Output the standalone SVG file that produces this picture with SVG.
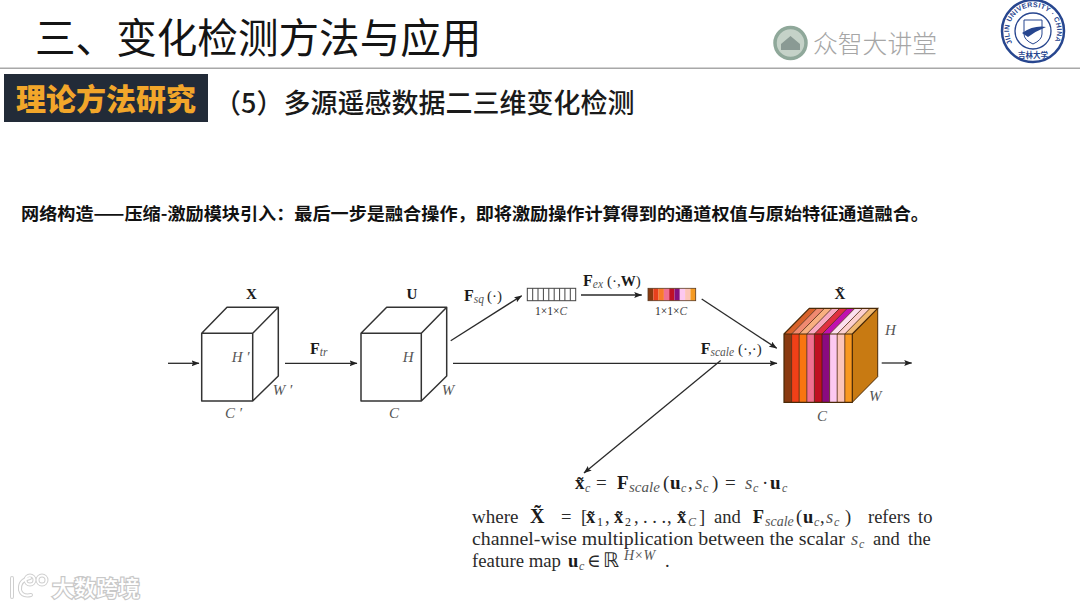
<svg xmlns="http://www.w3.org/2000/svg" width="1080" height="608" viewBox="0 0 1080 608">
<defs>
<marker id="ah" markerUnits="userSpaceOnUse" markerWidth="8" markerHeight="6" refX="7.500" refY="3" orient="auto"><path d="M0 0L8 3L0 6L1.500 3Z" fill="#222"/></marker>
<path id="sealArc" d="M1012.200 43A24 24 0 1 1 1053.800 43"/>
</defs>
<style>
.cjk{font-family:"Noto Sans CJK SC","Noto Sans",sans-serif}
.m{font-family:"Liberation Serif","DejaVu Serif",serif;fill:#2a2a2a}
.i{font-style:italic;fill:#555}
.b{font-weight:bold;fill:#1a1a1a}
.l{font-size:15px}
.t{font-size:18.5px}
.s{font-size:11.5px}
.box{fill:none;stroke:#333;stroke-width:1.5;stroke-linejoin:round}
.con{fill:none;stroke:#2a2a2a;stroke-width:1.3;marker-end:url(#ah)}
.div{fill:none;stroke:#4a2008;stroke-width:.8}
</style>
<rect width="1080" height="608" fill="#fff"/>

<g id="header">
<text class="cjk" x="35" y="53" font-size="40.600" fill="#141414">三、变化检测方法与应用</text>
<rect x="0" y="67.500" width="1080" height="1.500" fill="#a8a8a8"/>
<rect x="4" y="74" width="204" height="48" fill="#222b38"/>
<text class="cjk" x="16" y="110" font-size="30" font-weight="900" fill="#f2a62a">理论方法研究</text>
<text class="cjk" x="214" y="113" font-size="27" font-weight="500" fill="#1a1a1a">（5）多源遥感数据二三维变化检测</text>
</g>

<g id="logo-zhongzhi">
<circle cx="790.500" cy="43" r="15.500" fill="#c5d2c8" stroke="#8fa89a" stroke-width="3.500"/>
<path d="M781 50V44L790.500 36L800 44V50Z" fill="#8a9a94"/>
<text class="cjk" x="813" y="53" font-size="24.800" font-weight="300" fill="#a6a6a6">众智大讲堂</text>
</g>
<g id="logo-university">
<circle cx="1033" cy="31" r="31" fill="#fff" stroke="#27468f" stroke-width="2.500"/>
<circle cx="1033" cy="31" r="18" fill="none" stroke="#27468f" stroke-width="1.300"/>
<path d="M1024 20H1042V34Q1042 40 1033 44Q1024 40 1024 34Z" fill="none" stroke="#27468f"/>
<path d="M1022 33Q1034 25 1046 27Q1036 31 1028 37Z" fill="#27468f"/>
<text font-family="Liberation Sans,sans-serif" font-size="7" font-weight="bold" fill="#27468f"><textPath href="#sealArc" textLength="98" lengthAdjust="spacing">JILIN UNIVERSITY · CHINA</textPath></text>
<text class="cjk" x="1033" y="58" font-size="7.500" font-weight="700" text-anchor="middle" fill="#27468f">吉林大学</text>
</g>

<text id="intro" class="cjk" x="21" y="220" font-size="17.600" font-weight="700" fill="#111" textLength="908" lengthAdjust="spacingAndGlyphs">网络构造——压缩-激励模块引入：最后一步是融合操作，即将激励操作计算得到的通道权值与原始特征通道融合。</text>

<g id="connectors">
<path class="con" d="M168 363.300H199"/>
<path class="con" d="M285 363.300H357"/>
<path class="con" d="M453 363.300H777"/>
<path class="con" d="M450.700 340.700L521.700 295.700"/>
<path class="con" d="M581 295H641.700"/>
<path class="con" d="M701.700 299L776.700 348.300"/>
<path class="con" d="M881.700 363H911.700"/>
<path class="con" d="M720.700 360.500L584 473"/>
</g>

<g id="node-x">
<path class="box" d="M201.700 333.300H252.700V401H201.700ZM201.700 333.300L227 307.300H278.300L252.700 333.300M278.300 307.300V376L252.700 401"/>
<text class="m b l" x="251.500" y="299" text-anchor="middle">X</text>
<text class="m i l" x="231.700" y="362">H ′</text>
<text class="m i l" x="272.700" y="395">W ′</text>
<text class="m i l" x="225" y="418">C ′</text>
</g>
<g id="label-ftr"><text class="m" x="310" y="354"><tspan class="b" font-size="16">F</tspan><tspan class="i" font-size="11.500" dy="2">tr</tspan></text></g>

<g id="node-u">
<path class="box" d="M361 333.300H421.300V401H361ZM361 333.300L386.700 307.300H446.700L421.300 333.300M446.700 307.300V376L421.300 401"/>
<text class="m b l" x="412" y="299" text-anchor="middle">U</text>
<text class="m i l" x="402.700" y="362">H</text>
<text class="m i l" x="441.700" y="395">W</text>
<text class="m i l" x="389" y="418">C</text>
</g>
<g id="label-fsq"><text class="m" x="464" y="301"><tspan class="b" font-size="16">F</tspan><tspan class="i" font-size="11.500" dy="2">sq</tspan><tspan font-size="15" dy="-2" dx="3">(·)</tspan></text></g>

<g id="node-squeeze">
<rect x="527.300" y="288.300" width="48.400" height="12.400" fill="#fff" stroke="#444" stroke-width="1"/>
<path d="M532.700 288.300v12.400M538 288.300v12.400M543.400 288.300v12.400M548.800 288.300v12.400M554.200 288.300v12.400M559.600 288.300v12.400M564.900 288.300v12.400M570.300 288.300v12.400" stroke="#444" stroke-width="1"/>
<text class="m s" x="535" y="315" fill="#666">1×1×<tspan class="i">C</tspan></text>
</g>
<g id="label-fex"><text class="m" x="583" y="285.700"><tspan class="b" font-size="16">F</tspan><tspan class="i" font-size="11.500" dy="2">ex</tspan><tspan font-size="15" dy="-2" dx="4">(·,</tspan><tspan class="b" font-size="15">W</tspan><tspan font-size="15">)</tspan></text></g>

<g id="node-excite">
<rect x="648" y="288.300" width="5.300" height="12.400" fill="#8a3a10"/>
<rect x="653.300" y="288.300" width="5.300" height="12.400" fill="#e8401c"/>
<rect x="658.600" y="288.300" width="5.300" height="12.400" fill="#f87b2a"/>
<rect x="663.900" y="288.300" width="5.300" height="12.400" fill="#f07090"/>
<rect x="669.200" y="288.300" width="5.300" height="12.400" fill="#bf1026"/>
<rect x="674.500" y="288.300" width="5.300" height="12.400" fill="#84107e"/>
<rect x="679.800" y="288.300" width="5.300" height="12.400" fill="#fcc8f0"/>
<rect x="685.100" y="288.300" width="5.300" height="12.400" fill="#fcc4b8"/>
<rect x="690.400" y="288.300" width="5.300" height="12.400" fill="#f59a22"/>
<rect x="648" y="288.300" width="47.700" height="12.400" fill="none" stroke="#5a3a20" stroke-width=".8"/>
<text class="m s" x="655" y="315" fill="#666">1×1×<tspan class="i">C</tspan></text>
</g>

<g id="node-xtilde">
<path d="M852.300 334L877.700 308.300V376.700L852.300 402.300Z" fill="#c87a12" stroke="#4a2a08"/>
<path d="M784 334L809.300 308.300H816.900L791.600 334Z" fill="#d9622a"/>
<path d="M791.600 334L816.900 308.300H824.500L799.200 334Z" fill="#f08a70"/>
<path d="M799.200 334L824.500 308.300H832.100L806.800 334Z" fill="#f8b080"/>
<path d="M806.800 334L832.100 308.300H839.700L814.400 334Z" fill="#f8a8c0"/>
<path d="M814.400 334L839.700 308.300H847.300L822 334Z" fill="#e03040"/>
<path d="M822 334L847.300 308.300H854.900L829.600 334Z" fill="#c010b0"/>
<path d="M829.600 334L854.900 308.300H862.500L837.200 334Z" fill="#fce0f0"/>
<path d="M837.200 334L862.500 308.300H870.100L844.800 334Z" fill="#fcd0d0"/>
<path d="M844.800 334L870.100 308.300H877.700L852.300 334Z" fill="#f0b870"/>
<rect x="784" y="334" width="7.600" height="68.300" fill="#8a3a10"/>
<rect x="791.600" y="334" width="7.600" height="68.300" fill="#f04018"/>
<rect x="799.200" y="334" width="7.600" height="68.300" fill="#f87510"/>
<rect x="806.800" y="334" width="7.600" height="68.300" fill="#f07090"/>
<rect x="814.400" y="334" width="7.600" height="68.300" fill="#c01020"/>
<rect x="822" y="334" width="7.600" height="68.300" fill="#8a0a80"/>
<rect x="829.600" y="334" width="7.600" height="68.300" fill="#fcc8f0"/>
<rect x="837.200" y="334" width="7.600" height="68.300" fill="#fcc4b8"/>
<rect x="844.800" y="334" width="7.500" height="68.300" fill="#f89820"/>
<path class="div" d="M791.600 402.300V334L816.900 308.300M799.200 402.300V334L824.500 308.300M806.800 402.300V334L832.100 308.300M814.400 402.300V334L839.700 308.300M822 402.300V334L847.300 308.300M829.600 402.300V334L854.900 308.300M837.200 402.300V334L862.500 308.300M844.800 402.300V334L870.100 308.300"/>
<path d="M784 334H852.300V402.300H784ZM784 334L809.300 308.300H877.700L852.300 334" fill="none" stroke="#4a2a08" stroke-width="1.200"/>
<text class="m b l" x="840" y="299" text-anchor="middle">X̃</text>
<text class="m i l" x="885" y="335">H</text>
<text class="m i l" x="869" y="401">W</text>
<text class="m i l" x="817" y="421">C</text>
</g>
<g id="label-fscale"><text class="m" x="700.700" y="354"><tspan class="b" font-size="16">F</tspan><tspan class="i" font-size="11.500" dy="2">scale</tspan><tspan font-size="15" dy="-2" dx="4">(·,·)</tspan></text></g>

<g id="equation">
<text class="m" y="489" font-size="19"><tspan class="b" x="575">x̃</tspan><tspan class="i" font-size="12" x="585" dy="3">c</tspan><tspan x="596" dy="-3">=</tspan><tspan class="b" x="617">F</tspan><tspan class="i" font-size="15" x="629" dy="3">scale</tspan><tspan x="663" dy="-3">(</tspan><tspan class="b" x="670">u</tspan><tspan class="i" font-size="12" x="681" dy="3">c</tspan><tspan x="688" dy="-3">,</tspan><tspan class="i" x="695">s</tspan><tspan class="i" font-size="12" x="703" dy="3">c</tspan><tspan x="712" dy="-3">)</tspan><tspan x="725">=</tspan><tspan class="i" x="745">s</tspan><tspan class="i" font-size="12" x="753" dy="3">c</tspan><tspan x="762" dy="-3">·</tspan><tspan class="b" x="770">u</tspan><tspan class="i" font-size="12" x="782" dy="3">c</tspan></text>
</g>
<g id="paragraph">
<text class="m t" y="523"><tspan x="472" font-size="19">where</tspan><tspan class="b" x="530" font-size="20">X̃</tspan><tspan x="561">=</tspan><tspan x="581">[</tspan><tspan class="b" x="586">x̃</tspan><tspan font-size="12" x="597" dy="3">1</tspan><tspan x="605" dy="-3">,</tspan><tspan class="b" x="614">x̃</tspan><tspan font-size="12" x="625" dy="3">2</tspan><tspan x="634" dy="-3">,</tspan><tspan x="643">. . .</tspan><tspan x="667">,</tspan><tspan class="b" x="677">x̃</tspan><tspan class="i" font-size="12" x="688" dy="3">C</tspan><tspan x="699" dy="-3">]</tspan><tspan x="714">and</tspan><tspan class="b" x="752.700">F</tspan><tspan class="i" font-size="14" x="765" dy="3">scale</tspan><tspan x="796" dy="-3">(</tspan><tspan class="b" x="803">u</tspan><tspan class="i" font-size="12" x="814" dy="3">c</tspan><tspan x="820" dy="-3">,</tspan><tspan class="i" x="826">s</tspan><tspan class="i" font-size="12" x="834" dy="3">c</tspan><tspan x="845" dy="-3">)</tspan><tspan x="868">refers</tspan><tspan x="918">to</tspan></text>
<text class="m t" x="472" y="545" textLength="373" lengthAdjust="spacingAndGlyphs">channel-wise multiplication between the scalar</text>
<text class="m t" y="545"><tspan class="i" x="851">s</tspan><tspan class="i" font-size="12" x="859" dy="3">c</tspan><tspan x="873" dy="-3">and</tspan><tspan x="908">the</tspan></text>
<text class="m t" y="567"><tspan x="472" textLength="89" lengthAdjust="spacingAndGlyphs">feature map</tspan><tspan class="b" x="568">u</tspan><tspan class="i" font-size="12" x="579" dy="3">c</tspan><tspan x="587" dy="-3">∈</tspan><tspan x="603" font-size="20" font-family="DejaVu Sans">ℝ</tspan><tspan class="i" x="624" font-size="14" dy="-7">H×W</tspan><tspan x="665" dy="7">.</tspan></text>
</g>

<g id="watermark">
<g fill="none" stroke="#cfcfcf" stroke-width="4" stroke-linecap="round"><path d="M12 578V597M30 578Q19 580 20 590Q22 597 31 595"/><circle cx="30" cy="580" r="4.500"/><circle cx="42" cy="580" r="4.500"/></g>
<g fill="none" stroke="#fff" stroke-width="2" stroke-linecap="round"><path d="M12 578V597M30 578Q19 580 20 590Q22 597 31 595"/><circle cx="30" cy="580" r="4.500"/><circle cx="42" cy="580" r="4.500"/></g>
<text class="cjk" x="52" y="596" font-size="22" fill="#fff" stroke="#c8c8c8" stroke-width="2.500" paint-order="stroke" font-weight="500">大数跨境</text>
</g>
</svg>
